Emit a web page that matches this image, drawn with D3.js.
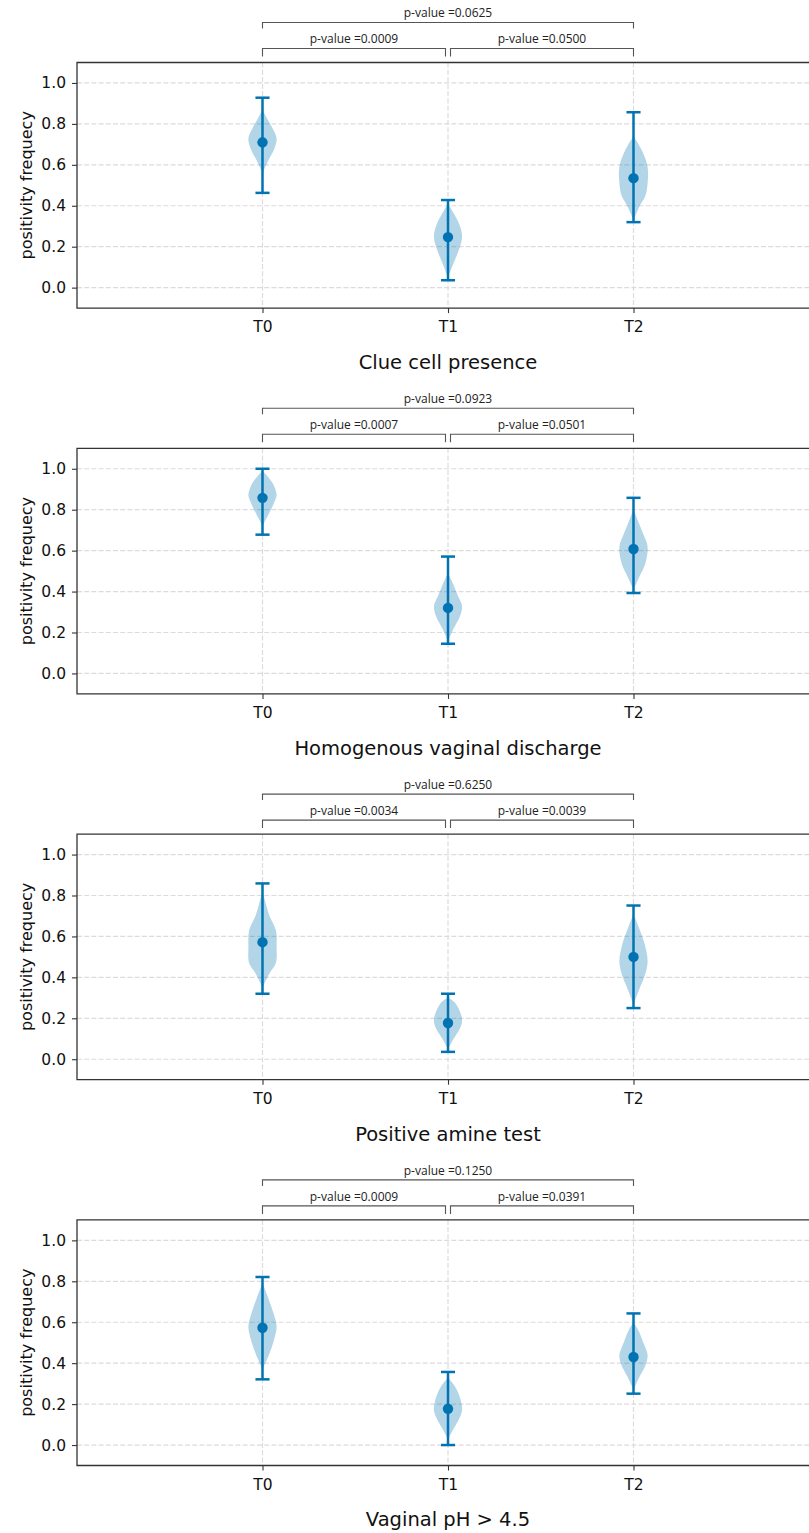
<!DOCTYPE html>
<html>
<head>
<meta charset="utf-8">
<script src="https://cdn.jsdelivr.net/npm/d3@7"></script>
<style>
  body { margin: 0; background: #fff; }
  svg { display: block; }
</style>
</head>
<body>
<svg id="chart" width="809" height="1533"></svg>
<script>

var groups = ["T0", "T1", "T2"];
var titles = ["Clue cell presence", "Homogenous vaginal discharge", "Positive amine test", "Vaginal pH > 4.5"];
var yTicks = [0, 0.2, 0.4, 0.6, 0.8, 1.0];

// mean, min and max per panel (T0, T1, T2)
var means = [[0.71, 0.247, 0.535], [0.858, 0.32, 0.608], [0.572, 0.177, 0.50], [0.573, 0.177, 0.43]];
var mins  = [[0.463, 0.036, 0.32], [0.678, 0.145, 0.393], [0.32, 0.036, 0.25], [0.321, 0.0, 0.251]];
var maxs  = [[0.928, 0.428, 0.857], [1.0, 0.571, 0.858], [0.859, 0.32, 0.751], [0.821, 0.357, 0.643]];

// p-values: T0 vs T1, T1 vs T2, T0 vs T2
var pLeft  = ["0.0009", "0.0007", "0.0034", "0.0009"];
var pRight = ["0.0500", "0.0501", "0.0039", "0.0391"];
var pOuter = ["0.0625", "0.0923", "0.6250", "0.1250"];

// violin outlines: [value, relative half width]
var violins = [
    [
        [[0.56, 0], [0.62, 0.4], [0.68, 0.85], [0.73, 1], [0.78, 0.7], [0.83, 0.3], [0.87, 0]],
        [[0.05, 0], [0.12, 0.4], [0.19, 0.8], [0.25, 1], [0.31, 0.8], [0.37, 0.35], [0.41, 0]],
        [[0.33, 0], [0.40, 0.45], [0.45, 0.85], [0.51, 1], [0.59, 1], [0.67, 0.6], [0.74, 0]]
    ],
    [
        [[0.72, 0], [0.78, 0.45], [0.83, 0.8], [0.87, 1], [0.92, 0.8], [0.96, 0.4], [0.99, 0]],
        [[0.16, 0], [0.22, 0.4], [0.28, 0.85], [0.33, 1], [0.38, 0.7], [0.44, 0.35], [0.49, 0]],
        [[0.41, 0], [0.47, 0.4], [0.54, 0.85], [0.62, 1], [0.68, 0.7], [0.74, 0.35], [0.80, 0]]
    ],
    [
        [[0.35, 0], [0.42, 0.5], [0.47, 0.95], [0.55, 1], [0.63, 0.95], [0.70, 0.5], [0.77, 0.2], [0.82, 0]],
        [[0.05, 0], [0.10, 0.4], [0.15, 0.85], [0.19, 1], [0.24, 0.8], [0.28, 0.45], [0.30, 0]],
        [[0.27, 0], [0.34, 0.4], [0.42, 0.85], [0.48, 1], [0.56, 0.8], [0.64, 0.4], [0.71, 0]]
    ],
    [
        [[0.37, 0], [0.44, 0.45], [0.51, 0.8], [0.58, 1], [0.65, 0.75], [0.72, 0.4], [0.79, 0]],
        [[0.03, 0], [0.08, 0.4], [0.13, 0.8], [0.17, 1], [0.22, 0.9], [0.28, 0.55], [0.33, 0]],
        [[0.27, 0], [0.33, 0.4], [0.39, 0.85], [0.44, 1], [0.50, 0.7], [0.56, 0.35], [0.60, 0]]
    ]
];

var blue = "#0173b2",
    gridColor = "#dcdcdc",
    axisColor = "#333";

var svg = d3.select("#chart");

var left = 77, right = 819,
    panelTop = 62.5, panelStep = 385.8, panelH = 245.6;

var x = d3.scaleLinear().domain([-1, 3]).range([left, right]);
var halfW = 0.076,  // max violin half width, x units
    capW = 0.038;

titles.forEach(function (title, p) {
    var top = panelTop + p * panelStep;
    var y = d3.scaleLinear().domain([-0.1, 1.1]).range([top + panelH, top]);
    var g = svg.append("g");

    // grid
    g.selectAll(".hgrid").data(yTicks).enter().append("line")
        .attr("x1", left).attr("x2", right)
        .attr("y1", function (d) { return y(d); })
        .attr("y2", function (d) { return y(d); })
        .attr("stroke", gridColor).attr("stroke-width", 1.2)
        .attr("stroke-dasharray", "5,2.2");

    g.selectAll(".vgrid").data(groups).enter().append("line")
        .attr("x1", function (d, i) { return x(i); })
        .attr("x2", function (d, i) { return x(i); })
        .attr("y1", top).attr("y2", top + panelH)
        .attr("stroke", gridColor).attr("stroke-width", 1.2)
        .attr("stroke-dasharray", "5,2.2");

    // axes
    var yAxis = g.append("g")
        .attr("transform", "translate(" + left + ",0)")
        .call(d3.axisLeft(y).tickValues(yTicks).tickFormat(d3.format(".1f")).tickSize(5).tickPadding(6));
    var xAxis = g.append("g")
        .attr("transform", "translate(0," + (top + panelH) + ")")
        .call(d3.axisBottom(x).tickValues([0, 1, 2]).tickFormat(function (d) { return groups[d]; }).tickSize(5).tickPadding(8));

    [yAxis, xAxis].forEach(function (a) {
        a.select(".domain").remove();
        a.selectAll(".tick line").attr("stroke", axisColor).attr("stroke-width", 1.1);
        a.selectAll(".tick text")
            .attr("fill", "#111")
            .style("font-family", "'DejaVu Sans', sans-serif")
            .style("font-size", "15.5px");
    });

    // frame (right side runs off the picture)
    g.append("path")
        .attr("d", d3.line()([[right, top], [left, top], [left, top + panelH], [right, top + panelH]]))
        .attr("fill", "none").attr("stroke", axisColor).attr("stroke-width", 1.3);

    // violins
    violins[p].forEach(function (shape, i) {
        var area = d3.area()
            .curve(d3.curveCatmullRom)
            .y(function (d) { return y(d[0]); })
            .x0(function (d) { return x(i - halfW * d[1]); })
            .x1(function (d) { return x(i + halfW * d[1]); });
        g.append("path")
            .attr("d", area(shape))
            .attr("fill", blue).attr("fill-opacity", 0.3);
    });

    // min-max lines with caps
    groups.forEach(function (grp, i) {
        g.append("line")
            .attr("x1", x(i)).attr("x2", x(i))
            .attr("y1", y(mins[p][i])).attr("y2", y(maxs[p][i]))
            .attr("stroke", blue).attr("stroke-width", 2.5);
        [mins[p][i], maxs[p][i]].forEach(function (v) {
            g.append("line")
                .attr("x1", x(i - capW)).attr("x2", x(i + capW))
                .attr("y1", y(v)).attr("y2", y(v))
                .attr("stroke", blue).attr("stroke-width", 2.5);
        });
        g.append("circle")
            .attr("cx", x(i)).attr("cy", y(means[p][i]))
            .attr("r", 5.2).attr("fill", blue);
    });

    // y label
    g.append("text")
        .attr("transform", "translate(26," + (top + panelH / 2) + ") rotate(-90)")
        .attr("text-anchor", "middle")
        .attr("dy", "0.35em")
        .style("font-family", "'DejaVu Sans', sans-serif")
        .style("font-size", "16px")
        .attr("fill", "#111")
        .text("positivity frequecy");

    // panel title under the axis
    g.append("text")
        .attr("x", (left + right) / 2)
        .attr("y", top + panelH + 54)
        .attr("text-anchor", "middle")
        .attr("dy", "0.35em")
        .style("font-family", "'DejaVu Sans', sans-serif")
        .style("font-size", "19.5px")
        .attr("fill", "#111")
        .text(title);

    // significance brackets
    var bracket = d3.line();
    var brackets = [
        {a: 0, b: 1, dxa: 0, dxb: -2.5, line: top - 14, end: top - 6, text: "p-value =" + pLeft[p]},
        {a: 1, b: 2, dxa: 2.5, dxb: 0, line: top - 14, end: top - 6, text: "p-value =" + pRight[p]},
        {a: 0, b: 2, dxa: 0, dxb: 0, line: top - 40, end: top - 34, text: "p-value =" + pOuter[p]}
    ];
    brackets.forEach(function (b) {
        var xa = x(b.a) + b.dxa, xb = x(b.b) + b.dxb;
        g.append("path")
            .attr("d", bracket([[xa, b.end], [xa, b.line], [xb, b.line], [xb, b.end]]))
            .attr("fill", "none").attr("stroke", "#555").attr("stroke-width", 1.1);
        g.append("text")
            .attr("x", (xa + xb) / 2)
            .attr("y", b.line - 9.5)
            .attr("text-anchor", "middle")
            .attr("dy", "0.35em")
            .style("font-family", "'Open Sans', sans-serif")
            .style("font-size", "12px")
            .attr("fill", "#222")
            .text(b.text);
    });
});

</script>
</body>
</html>
